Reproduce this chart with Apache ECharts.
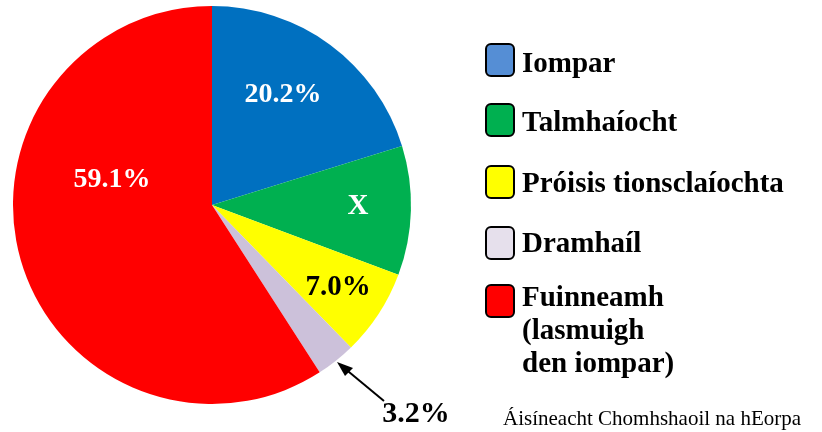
<!DOCTYPE html>
<html>
<head>
<meta charset="utf-8">
<script src="https://cdn.jsdelivr.net/npm/echarts@6/dist/echarts.min.js"></script>
<style>html,body{margin:0;padding:0;background:#fff}#c{width:822px;height:432px}</style>
</head>
<body>
<div id="c"></div>
<script>
const categories = ['Iompar', 'Talmhaíocht', 'Próisis tionsclaíochta', 'Dramhaíl', 'Fuinneamh\n(lasmuigh\nden iompar)'];
const values = [20.2, 10.5, 7.0, 3.2, 59.1];
const sliceLabels = ['20.2%', 'X', '7.0%', '3.2%', '59.1%'];
const sourceText = 'Áisíneacht Chomhshaoil na hEorpa';

const pieColors = ['#0070C0', '#00B050', '#FFFF00', '#CCC1DA', '#FF0000'];
const legendColors = ['#558ED5', '#00B050', '#FFFF00', '#E6E0EC', '#FF0000'];
const labelColors = ['#fff', '#fff', '#000', '#000', '#fff'];
const labelSizes = [28, 29, 29, 30, 28];
const labelPos = [[283, 95], [358, 207], [338, 288], [416, 414], [112, 180]];

const FONT = '"Liberation Serif", "Times New Roman", serif';
const chart = echarts.init(document.getElementById('c'), null, {renderer: 'canvas'});

const swatchTops = [43, 103, 165, 226, 284];
const textMids = [63, 122, 183, 243, 297];
const graphics = [];
categories.forEach((c, i) => {
  graphics.push({
    type: 'rect', left: 485, top: swatchTops[i],
    shape: {width: 28, height: 32, r: 5},
    style: {fill: legendColors[i], stroke: '#000', lineWidth: 2}
  });
  graphics.push({
    type: 'text', left: 522, top: textMids[i] - 15,
    style: {text: c, font: 'bold 29px ' + FONT, fill: '#000', lineHeight: 33}
  });
});
// arrow for the small slice
graphics.push({type: 'line', shape: {x1: 384, y1: 401, x2: 343, y2: 367}, style: {stroke: '#000', lineWidth: 2}});
graphics.push({type: 'polygon', shape: {points: [[337, 362], [353, 368], [345, 376]]}, style: {fill: '#000'}});
graphics.push({type: 'text', x: 503, y: 419, style: {text: sourceText, font: '21px ' + FONT, fill: '#000', verticalAlign: 'middle'}});

chart.setOption({
  animation: false,
  backgroundColor: '#fff',
  graphic: graphics,
  series: [{
    type: 'pie',
    center: [212, 205],
    radius: 199,
    startAngle: 90,
    clockwise: true,
    data: categories.map((c, i) => ({
      name: c, value: values[i],
      itemStyle: {color: pieColors[i]},
      label: {color: labelColors[i], fontSize: labelSizes[i], fontFamily: FONT, fontWeight: 'bold'}
    })),
    label: {
      show: true, position: 'inside',
      formatter: p => sliceLabels[p.dataIndex],
      fontFamily: FONT, fontWeight: 'bold', fontSize: 28
    },
    labelLine: {show: false},
    labelLayout: p => ({x: labelPos[p.dataIndex][0], y: labelPos[p.dataIndex][1], align: 'center', verticalAlign: 'middle'}),
    emphasis: {disabled: true}
  }]
});
</script>
</body>
</html>
